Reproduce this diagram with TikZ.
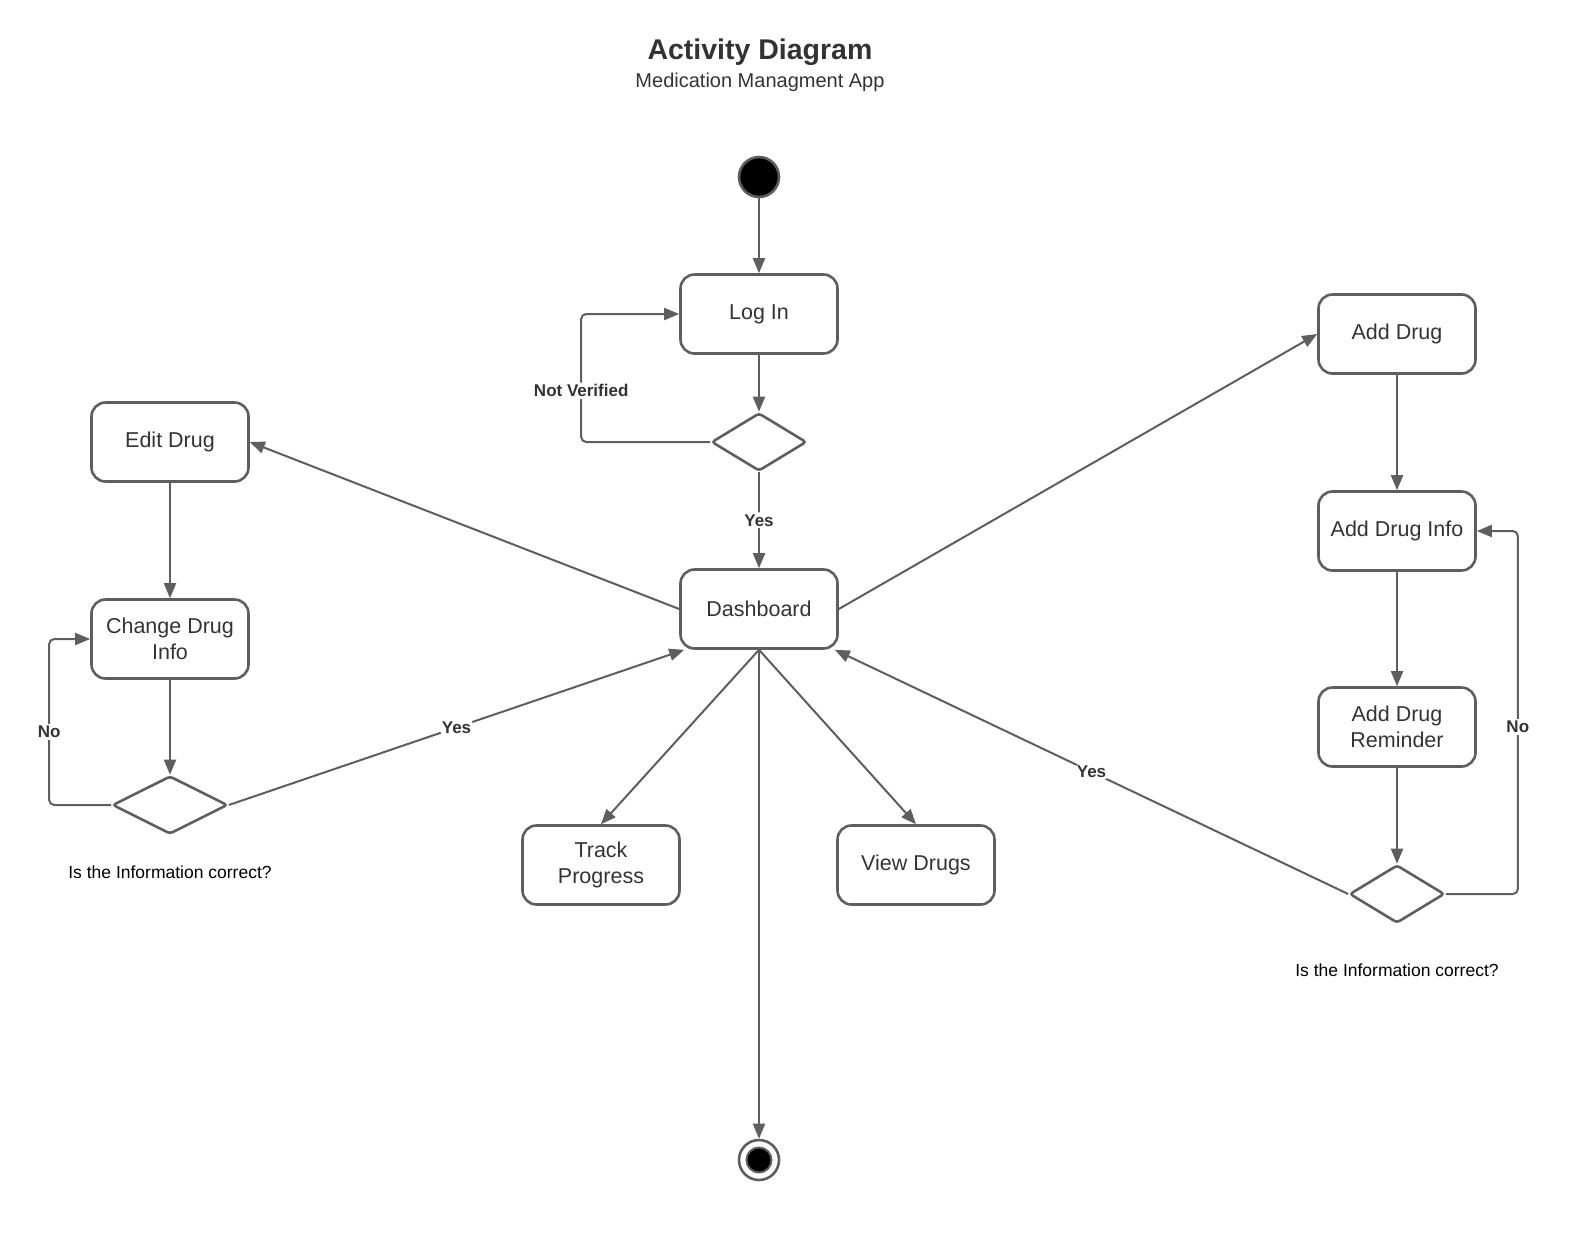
\documentclass[tikz,border=0pt]{standalone}
\usepackage{fontspec}
\setmainfont{Liberation Sans}
\usepackage{xcolor}
\usepackage{tikz}
\usetikzlibrary{arrows.meta,shapes.geometric}
\definecolor{line}{HTML}{5E5E5E}
\definecolor{ink}{HTML}{333333}
\tikzset{
  act/.style={draw=line, line width=2.6pt, rounded corners=14pt, minimum width=157pt, minimum height=79pt,
    align=center, text=ink, font=\fontsize{21.5}{26}\selectfont, inner sep=2pt},
  dec/.style={draw=line, line width=2.6pt, diamond, rounded corners=3pt, inner sep=0pt},
  flow/.style={draw=line, line width=2pt, rounded corners=5pt, -{Triangle[length=15pt,width=12pt]}},
  lbl/.style={fill=white, text=ink, font=\fontsize{17}{20}\selectfont\bfseries, inner sep=2pt},
  note/.style={text=black, font=\fontsize{17.5}{21}\selectfont},
}
\begin{document}
\begin{tikzpicture}[x=1pt,y=-1pt]
  \useasboundingbox (0,0) rectangle (1595,1240);
  % title
  \node[text=ink, font=\fontsize{28.5}{32}\selectfont\bfseries] (title) at (760,52) {Activity Diagram};
  \node[text=ink, font=\fontsize{20}{24}\selectfont] (subtitle) at (760,82) {Medication Managment App};
  % start and end
  \node[circle, fill=black, draw=line, line width=2.6pt, minimum size=40pt, inner sep=0pt] (start) at (759,177) {};
  \node[circle, draw=line, line width=2.6pt, minimum size=40pt, inner sep=0pt] (stop) at (759,1160) {};
  \node[circle, fill=black, draw=line, line width=2pt, minimum size=25pt, inner sep=0pt] (stopin) at (759,1160) {};
  % activities
  \node[act] (login) at (759,314) {Log In};
  \node[act] (dash) at (759,609) {Dashboard};
  \node[act] (edit) at (170,442) {Edit Drug};
  \node[act] (change) at (170,639) {Change Drug\\Info};
  \node[act] (track) at (601,865) {Track\\Progress};
  \node[act] (view) at (916,865) {View Drugs};
  \node[act] (add) at (1397,334) {Add Drug};
  \node[act] (addinfo) at (1397,531) {Add Drug Info};
  \node[act] (remind) at (1397,727) {Add Drug\\Reminder};
  % decisions
  \node[dec, minimum width=95pt, minimum height=58pt] (verify) at (759,442) {};
  \node[dec, minimum width=115pt, minimum height=58pt] (checkL) at (170,805) {};
  \node[dec, minimum width=95pt, minimum height=58pt] (checkR) at (1397,894) {};
  \node[note] (qL) at (170,872) {Is the Information correct?};
  \node[note] (qR) at (1397,970) {Is the Information correct?};
  % flows
  \draw[flow] (start) -- (login);
  \draw[flow] (login) -- (verify);
  \draw[flow] (verify.west) -- ++(-129,0) |- node[lbl, pos=0.2] {Not Verified} (login.west);
  \draw[flow] (verify.south) -- node[lbl] {Yes} (dash.north);
  \draw[flow] (dash.west) -- (edit.east);
  \draw[flow] (edit) -- (change);
  \draw[flow] (change) -- (checkL);
  \draw[flow] (checkL.west) -- ++(-62,0) |- node[lbl, pos=0.22] {No} (change.west);
  \draw[flow] (checkL.east) -- node[lbl] {Yes} ([xshift=5pt]dash.south west);
  \draw[flow] (dash.east) -- (add.west);
  \draw[flow] (add) -- (addinfo);
  \draw[flow] (addinfo) -- (remind);
  \draw[flow] (remind) -- (checkR);
  \draw[flow] (checkR.east) -- ++(72,0) |- node[lbl, pos=0.23] {No} (addinfo.east);
  \draw[flow] (checkR.west) -- node[lbl] {Yes} ([xshift=-4pt]dash.south east);
  \draw[flow] (dash.south) -- (track.north);
  \draw[flow] (dash.south) -- (view.north);
  \draw[flow] (dash.south) -- (stop.north);
\end{tikzpicture}
\end{document}
